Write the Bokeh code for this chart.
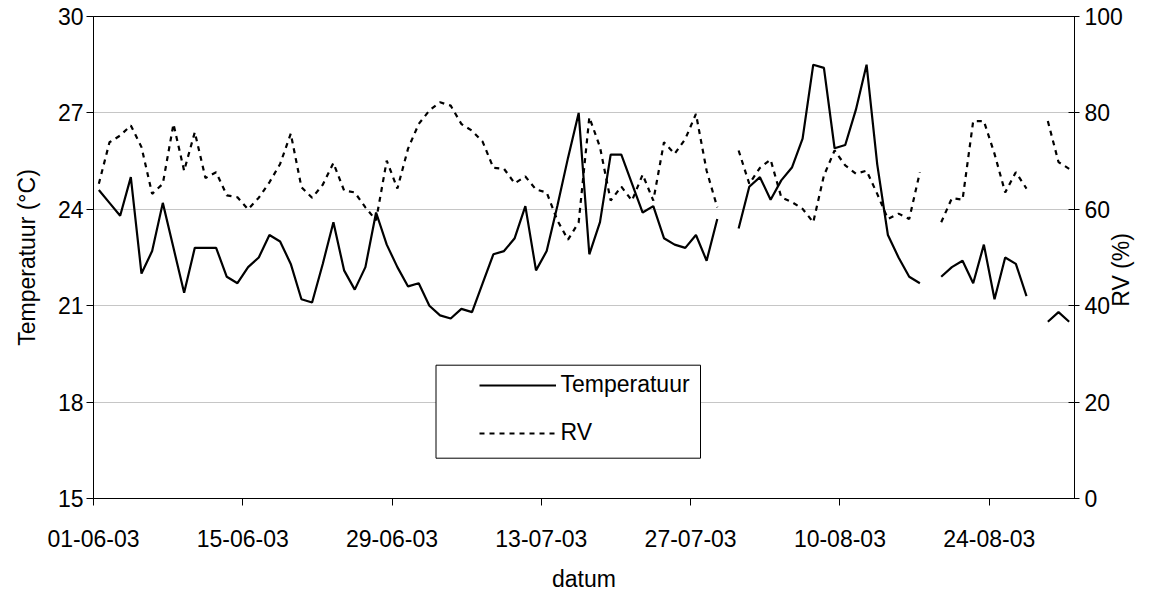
import math
from bokeh.plotting import figure
from bokeh.models import (Range1d, LinearAxis, Legend, LegendItem, FixedTicker,
                          BoxAnnotation, ColumnDataSource)
from bokeh.embed import file_html
from bokeh.resources import INLINE

nan = float("nan")

# day index 0 = 01-06-03 ... 91 = 31-08-03
day = list(range(92))

temperatuur = [
    24.6, 24.2, 23.8, 25.0, 22.0, 22.7, 24.2, 22.8, 21.4, 22.8,
    22.8, 22.8, 21.9, 21.7, 22.2, 22.5, 23.2, 23.0, 22.3, 21.2,
    21.1, 22.3, 23.6, 22.1, 21.5, 22.2, 23.9, 22.9, 22.2, 21.6,
    21.7, 21.0, 20.7, 20.6, 20.9, 20.8, 21.7, 22.6, 22.7, 23.1,
    24.1, 22.1, 22.7, 24.1, 25.6, 27.0, 22.6, 23.6, 25.7, 25.7,
    24.8, 23.9, 24.1, 23.1, 22.9, 22.8, 23.2, 22.4, 23.7, nan,
    23.4, 24.7, 25.0, 24.3, 24.9, 25.3, 26.2, 28.5, 28.4, 25.9,
    26.0, 27.1, 28.5, 25.4, 23.2, 22.5, 21.9, 21.7, nan, 21.9,
    22.2, 22.4, 21.7, 22.9, 21.2, 22.5, 22.3, 21.3, nan, 20.5,
    20.8, 20.5,
]

rv = [
    65.3, 73.9, 75.3, 77.4, 72.9, 63.2, 65.3, 77.7, 68.0, 76.0,
    66.5, 67.7, 62.9, 62.5, 60.0, 62.4, 65.6, 69.4, 75.7, 64.6,
    62.4, 65.1, 69.6, 63.9, 63.5, 60.4, 57.7, 70.1, 64.3, 72.6,
    77.7, 80.5, 82.2, 81.5, 77.7, 76.3, 74.0, 68.6, 68.4, 65.4,
    66.8, 64.1, 63.5, 57.7, 53.7, 57.3, 79.1, 72.9, 61.8, 64.7,
    61.8, 67.2, 61.8, 73.9, 71.5, 74.6, 79.8, 68.0, 60.4, nan,
    72.2, 65.3, 68.6, 70.3, 62.5, 61.5, 60.1, 57.3, 67.0, 72.2,
    69.1, 67.4, 68.0, 63.2, 58.0, 59.1, 58.0, 67.7, nan, 57.3,
    62.3, 62.0, 78.3, 78.3, 71.5, 63.5, 67.7, 64.3, nan, 78.3,
    69.8, 68.4,
]

tick_days = [0, 14, 28, 42, 56, 70, 84]
tick_labels = ["01-06-03", "15-06-03", "29-06-03", "13-07-03",
               "27-07-03", "10-08-03", "24-08-03"]
temp_ticks = [15, 18, 21, 24, 27, 30]
rv_ticks = [0, 20, 40, 60, 80, 100]

FONT = "Liberation Sans"
FS = "23px"

src = ColumnDataSource(dict(x=[d + 0.5 for d in day], t=temperatuur, rv=rv))

p = figure(width=1149, height=596, output_backend="svg", toolbar_location=None,
           x_range=Range1d(0, 92), y_range=Range1d(15, 30),
           min_border_left=93, min_border_right=72, min_border_top=16,
           min_border_bottom=98)
p.extra_y_ranges = {"rv": Range1d(0, 100)}

p.background_fill_color = "white"
p.border_fill_color = "white"
p.outline_line_color = "black"
p.outline_line_width = 1

p.xgrid.visible = False
p.ygrid.ticker = FixedTicker(ticks=temp_ticks)
p.ygrid.grid_line_color = "#c6c6c6"
p.ygrid.grid_line_width = 1

# x axis
xa = p.xaxis[0]
xa.ticker = FixedTicker(ticks=tick_days)
xa.major_label_overrides = {d: lab for d, lab in zip(tick_days, tick_labels)}
xa.axis_label = "datum"

# left axis
ya = p.yaxis[0]
ya.ticker = FixedTicker(ticks=temp_ticks)
ya.axis_label = "Temperatuur (°C)"

# right axis
ra = LinearAxis(y_range_name="rv", ticker=FixedTicker(ticks=rv_ticks))
p.add_layout(ra, "right")

for ax in (xa, ya, ra):
    ax.axis_line_color = "black"
    ax.axis_line_width = 1
    ax.major_tick_line_color = "black"
    ax.major_tick_in = 0
    ax.major_tick_out = 7
    ax.minor_tick_line_color = None
    ax.major_label_text_font = FONT
    ax.major_label_text_font_size = FS
    ax.major_label_text_color = "black"
    ax.axis_label_text_font = FONT
    ax.axis_label_text_font_size = FS
    ax.axis_label_text_font_style = "normal"
    ax.axis_label_text_color = "black"

xa.major_label_standoff = 24
xa.axis_label_standoff = 16
ya.major_label_standoff = 3
ya.axis_label_standoff = 15
ra.major_tick_in = 6
ra.major_tick_out = 5
ra.major_label_standoff = 5
ra.axis_label_standoff = -5
ra.axis_label_orientation = math.pi / 2

# the right title reads bottom-to-top and sits a little below the middle
try:
    ra.axis_label_align = "start"
    ra.axis_label = "\u00a0" * 30 + "RV (%)"
except Exception:
    ra.axis_label = "RV (%)"

r_t = p.line("x", "t", source=src, line_color="black", line_width=2.2)
r_rv = p.line("x", "rv", source=src, y_range_name="rv", line_color="black",
              line_width=2.2, line_dash="5 5")

box = BoxAnnotation(left=342.5, right=607, bottom=40.3, top=133.3,
                    left_units="screen", right_units="screen",
                    top_units="screen", bottom_units="screen",
                    fill_color="white", fill_alpha=1.0,
                    line_color="black", line_width=1, line_alpha=1.0)
p.add_layout(box)

legend = Legend(items=[LegendItem(label="Temperatuur", renderers=[r_t]),
                       LegendItem(label="RV", renderers=[r_rv])],
                location=(385.5, 52), padding=0, spacing=21,
                glyph_width=77, glyph_height=24, label_height=24,
                label_standoff=5, border_line_alpha=0,
                background_fill_alpha=0, margin=0,
                label_text_font=FONT, label_text_font_size=FS,
                label_text_color="black")
p.add_layout(legend)

open("out.html", "w").write(file_html(p, INLINE))
